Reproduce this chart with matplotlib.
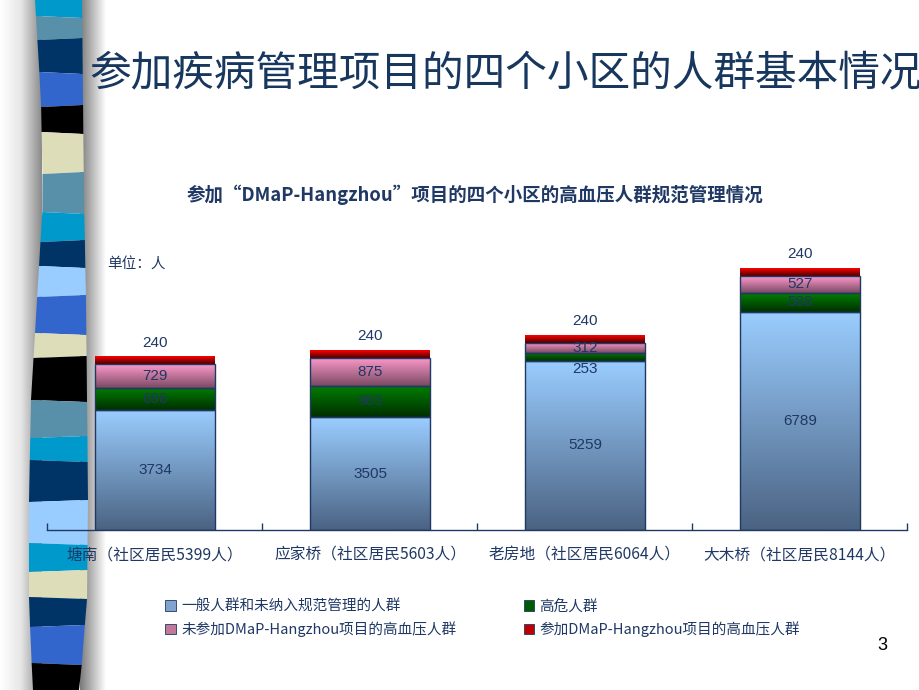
import numpy as np
import matplotlib
matplotlib.use("Agg")
import matplotlib.pyplot as plt
from matplotlib.colors import LinearSegmentedColormap
from matplotlib.patches import Patch, Polygon

plt.rcParams['font.family'] = ['Noto Sans CJK SC', 'DejaVu Sans']

# data
communities = ["塘南（社区居民5399人）", "应家桥（社区居民5603人）",
               "老房地（社区居民6064人）", "大木桥（社区居民8144人）"]
general = [3734, 3505, 5259, 6789]
high_risk = [696, 983, 253, 588]
not_joined = [729, 875, 312, 527]
joined = [240, 240, 240, 240]
series_names = ["一般人群和未纳入规范管理的人群", "高危人群",
                "未参加DMaP-Hangzhou项目的高血压人群", "参加DMaP-Hangzhou项目的高血压人群"]

navy = "#1F3864"
# (top colour, bottom colour) per series
grads = [("#9ACDFF", "#4B6383"), ("#008000", "#002E00"),
         ("#FF9ACC", "#7A4A63"), ("#FF0000", "#4A0000")]
legend_cols = ["#7FA3CC", "#005A00", "#C27898", "#C00000"]

# decorative strip on the left
strip_bounds = [0, 16, 40, 72, 107, 132, 174, 212, 242, 266, 297, 333, 358, 400,
                438, 460, 502, 543, 572, 597, 627, 663, 690]
strip_cols = ["#0099CC", "#5790A8", "#003366", "#3366CC", "#000000", "#DDDDB9",
              "#5790A8", "#0099CC", "#003366", "#99CCFF", "#3366CC", "#DDDDB9",
              "#000000", "#5790A8", "#0099CC", "#003366", "#99CCFF", "#0099CC",
              "#DDDDB9", "#003366", "#3366CC", "#000000"]
edge_y = [0, 100, 200, 300, 400, 500, 600, 650, 690]
edge_left = [35, 41, 43, 37, 31, 29, 29, 31, 33]
edge_right = [82, 83, 84, 86, 87, 88, 87, 83, 79]

fig = plt.figure(figsize=(9.2, 6.9), dpi=100)
bg = fig.add_axes([0, 0, 1, 1], zorder=0)
bg.set_xlim(0, 920)
bg.set_ylim(690, 0)
bg.axis('off')

shade_l = LinearSegmentedColormap.from_list("sl", ["#FFFFFF", "#E6E6E6", "#8A8A8A"])
shade_r = LinearSegmentedColormap.from_list("sr", ["#7A7A7A", "#FFFFFF"])
g = np.linspace(0, 1, 200).reshape(1, -1)
bg.imshow(g, cmap=shade_l, extent=[0, 42, 690, 0], aspect='auto')
bg.imshow(g, cmap=shade_r, extent=[80, 106, 690, 0], aspect='auto')
for i, c in enumerate(strip_cols):
    y0, y1 = strip_bounds[i], strip_bounds[i + 1]
    t0 = 2 if i % 2 else -2
    t1 = -2 if i % 2 else 2
    if i == 0:
        t0 = 0
    if i == len(strip_cols) - 1:
        t1 = 0
    ya, yb = y0 + t0, y1 + t1
    xl0, xl1 = np.interp([y0, y1], edge_y, edge_left)
    xr0, xr1 = np.interp([y0, y1], edge_y, edge_right)
    bg.add_patch(Polygon([[xl0, y0], [xr0, ya], [xr1, yb], [xl1, y1]],
                         closed=True, facecolor=c, edgecolor='none'))

fig.text(0.549, 0.891, "参加疾病管理项目的四个小区的人群基本情况",
         ha='center', va='center', fontsize=30, color="#17375E")
fig.text(0.516, 0.717, "参加“DMaP-Hangzhou”项目的四个小区的高血压人群规范管理情况",
         ha='center', va='center', fontsize=13.3, fontweight='bold', color=navy)
fig.text(107 / 920, 1 - 265 / 690, "单位：人", ha='left', va='center',
         fontsize=10.5, color=navy)
fig.text(882 / 920, 1 - 645 / 690, "3", ha='center', va='center', fontsize=13,
         color='black', family=['Liberation Sans', 'DejaVu Sans'])

ax = fig.add_axes([47.5 / 920, 160 / 690, 860 / 920, 300 / 690], zorder=1)
ax.patch.set_alpha(0)
x = np.arange(len(communities))
width = 0.558
stack = [general, high_risk, not_joined, joined]
bottom = np.zeros(len(communities))
gv = np.linspace(0, 1, 100).reshape(-1, 1)
num_font = ['Liberation Sans', 'DejaVu Sans']
for k, vals in enumerate(stack):
    bars = ax.bar(x, vals, width, bottom=bottom, facecolor='none',
                  edgecolor=navy if k < 3 else 'none', linewidth=1, zorder=3)
    cmap = LinearSegmentedColormap.from_list("c%d" % k, [grads[k][1], grads[k][0]])
    for j, r in enumerate(bars):
        x0, y0, w, h = r.get_x(), r.get_y(), r.get_width(), r.get_height()
        ax.imshow(gv, cmap=cmap, origin='lower', aspect='auto',
                  extent=[x0, x0 + w, y0, y0 + h], zorder=2)
        cx = x0 + w / 2
        if k == 3:
            ax.annotate(str(vals[j]), (cx, y0 + h), xytext=(0, 10),
                        textcoords='offset points', ha='center', va='center',
                        fontsize=11, color=navy, family=num_font)
        elif k == 1 and vals[j] < 300:
            ax.annotate(str(vals[j]), (cx, y0), xytext=(0, -1),
                        textcoords='offset points', ha='center', va='top',
                        fontsize=11, color=navy, family=num_font)
        else:
            ax.text(cx, y0 + h / 2, str(vals[j]), ha='center', va='center',
                    fontsize=11, color=navy, zorder=4, family=num_font)
    bottom = bottom + np.array(vals)

ax.set_xlim(-0.5, len(communities) - 0.5)
ax.set_ylim(0, 9330)
for s in ['top', 'left', 'right']:
    ax.spines[s].set_visible(False)
ax.spines['bottom'].set_color(navy)
ax.spines['bottom'].set_linewidth(1)
ax.set_yticks([])
ax.set_xticks(x)
ax.set_xticklabels(communities, fontsize=11.3, color=navy)
ax.tick_params(axis='x', which='major', length=0, pad=12)
ax.set_xticks(np.arange(len(communities) + 1) - 0.5, minor=True)
ax.tick_params(axis='x', which='minor', direction='in', length=5, color=navy, width=1)

handles = [Patch(facecolor=legend_cols[i], edgecolor=navy, linewidth=0.6,
                 label=series_names[i]) for i in [0, 2, 1, 3]]
fig.legend(handles=handles, loc='upper left', bbox_to_anchor=(158 / 920, 1 - 592 / 690),
           ncol=2, frameon=False, fontsize=10.5, handlelength=0.7, handleheight=0.7,
           handletextpad=0.4, columnspacing=4.6, labelspacing=0.55, borderpad=0,
           labelcolor=navy)

fig.savefig("out.png", dpi=100)
